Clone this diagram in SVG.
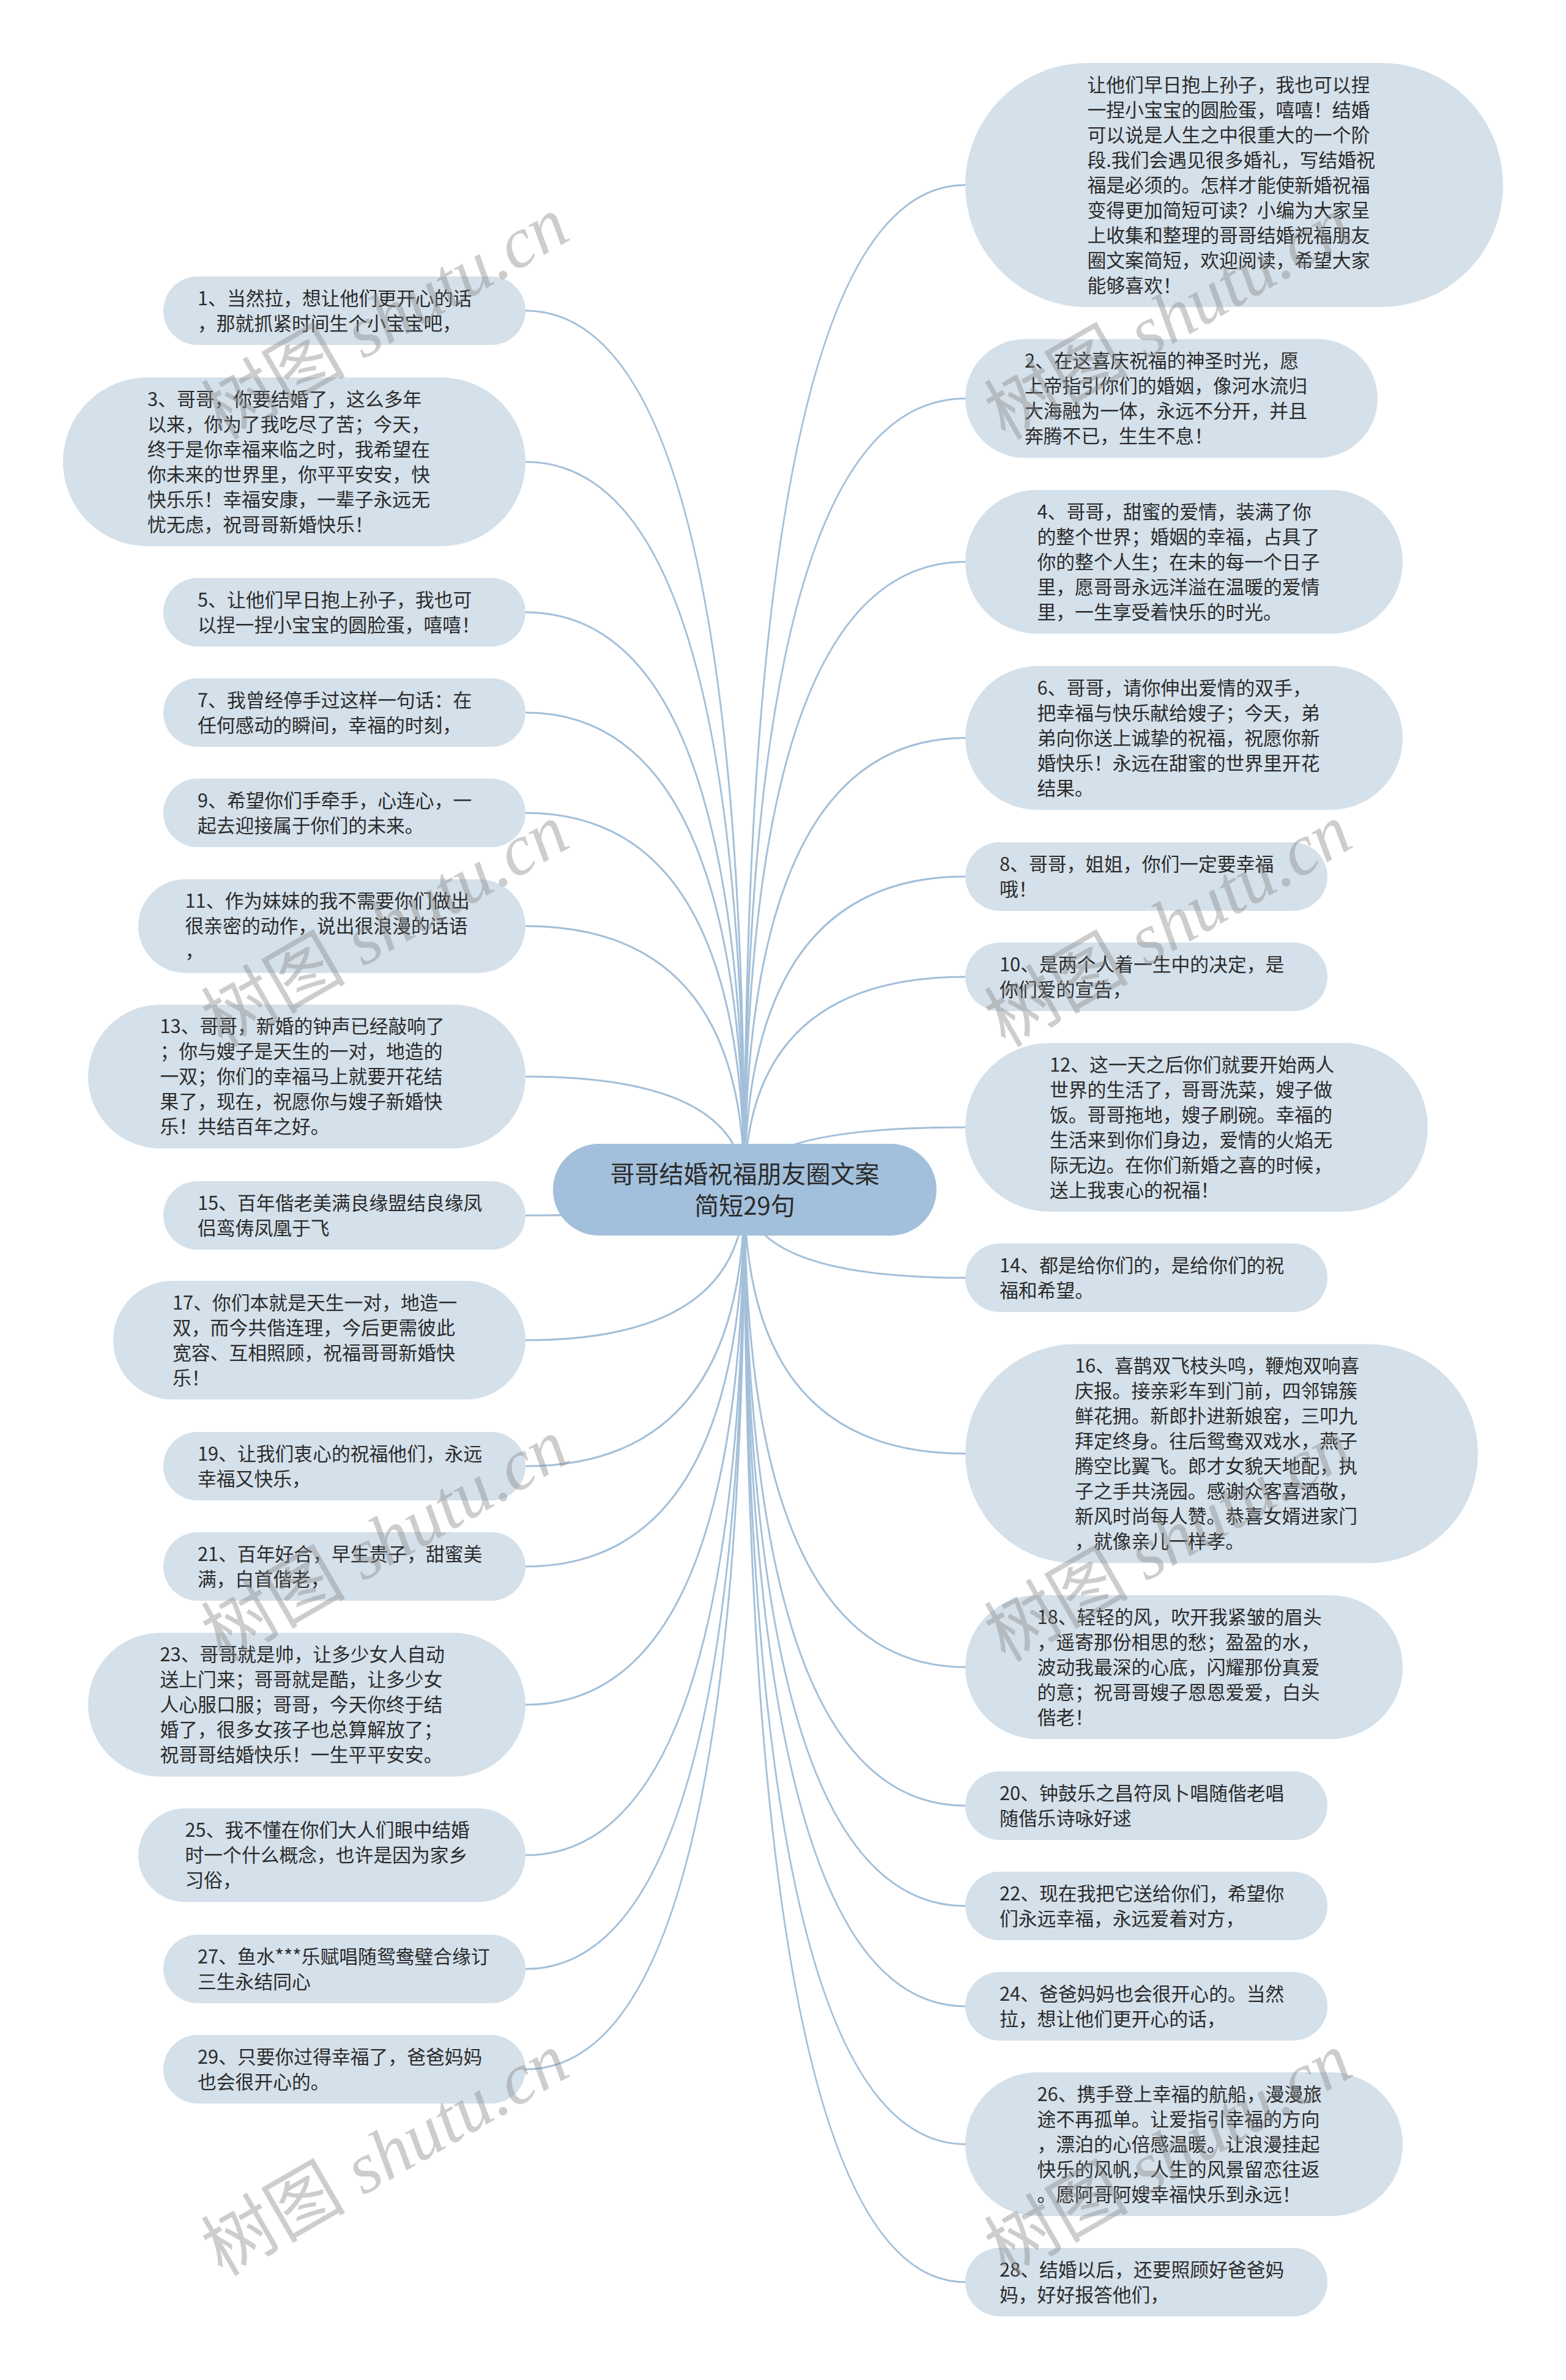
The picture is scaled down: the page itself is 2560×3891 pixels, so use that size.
<svg xmlns="http://www.w3.org/2000/svg" width="2560" height="3891" viewBox="0 0 2560 3891">
<style>
.n{fill:#d4e0ea}
.t{font-family:"Noto Sans CJK SC","Noto Sans",sans-serif;font-size:30.8px;fill:#2b2b2b}
.c{fill:#a2bfdb}
.ct{font-family:"Noto Sans CJK SC","Noto Sans",sans-serif;font-size:40px;fill:#2b2b2b;text-anchor:middle}
.e{fill:none;stroke:#a3bfd9;stroke-width:3}
.wm{font-family:"Liberation Serif","Noto Sans CJK SC",serif;font-size:118px;fill:#888;fill-opacity:0.42;text-anchor:middle}
</style>
<rect width="2560" height="3891" fill="#ffffff"/>
<g id="connectors">
<path class="e" d="M1217 1945 Q1217 508 859 508"/>
<path class="e" d="M1217 1945 Q1217 755 859 755"/>
<path class="e" d="M1217 1945 Q1217 1001 859 1001"/>
<path class="e" d="M1217 1945 Q1217 1165 859 1165"/>
<path class="e" d="M1217 1945 Q1217 1329 859 1329"/>
<path class="e" d="M1217 1945 Q1217 1514 859 1514"/>
<path class="e" d="M1217 1945 Q1217 1760 859 1760"/>
<path class="e" d="M1217 1945 Q1217 1987 859 1987"/>
<path class="e" d="M1217 1945 Q1217 2191 859 2191"/>
<path class="e" d="M1217 1945 Q1217 2397 859 2397"/>
<path class="e" d="M1217 1945 Q1217 2561 859 2561"/>
<path class="e" d="M1217 1945 Q1217 2787 859 2787"/>
<path class="e" d="M1217 1945 Q1217 3033 859 3033"/>
<path class="e" d="M1217 1945 Q1217 3219 859 3219"/>
<path class="e" d="M1217 1945 Q1217 3383 859 3383"/>
<path class="e" d="M1217 1945 Q1217 302.5 1578 302.5"/>
<path class="e" d="M1217 1945 Q1217 651.5 1578 651.5"/>
<path class="e" d="M1217 1945 Q1217 918.5 1578 918.5"/>
<path class="e" d="M1217 1945 Q1217 1206.5 1578 1206.5"/>
<path class="e" d="M1217 1945 Q1217 1433 1578 1433"/>
<path class="e" d="M1217 1945 Q1217 1597 1578 1597"/>
<path class="e" d="M1217 1945 Q1217 1843 1578 1843"/>
<path class="e" d="M1217 1945 Q1217 2089 1578 2089"/>
<path class="e" d="M1217 1945 Q1217 2376.5 1578 2376.5"/>
<path class="e" d="M1217 1945 Q1217 2725.5 1578 2725.5"/>
<path class="e" d="M1217 1945 Q1217 2952 1578 2952"/>
<path class="e" d="M1217 1945 Q1217 3116 1578 3116"/>
<path class="e" d="M1217 1945 Q1217 3280 1578 3280"/>
<path class="e" d="M1217 1945 Q1217 3505.5 1578 3505.5"/>
<path class="e" d="M1217 1945 Q1217 3731 1578 3731"/>
</g>
<g id="center">
<rect class="c" x="904" y="1870" width="627" height="150" rx="75"/>
<text class="ct" x="1217.5" y="1934">哥哥结婚祝福朋友圈文案</text>
<text class="ct" x="1217.5" y="1986">简短29句</text>
</g>
<g id="n1"><rect class="n" x="267" y="452" width="592" height="112" rx="56"/>
<text class="t" x="323" y="498.5">1、当然拉，想让他们更开心的话</text>
<text class="t" x="323" y="539.5">，那就抓紧时间生个小宝宝吧，</text></g>
<g id="n3"><rect class="n" x="103" y="617" width="756" height="276" rx="138"/>
<text class="t" x="241" y="663.5">3、哥哥，你要结婚了，这么多年</text>
<text class="t" x="241" y="704.5">以来，你为了我吃尽了苦；今天，</text>
<text class="t" x="241" y="745.5">终于是你幸福来临之时，我希望在</text>
<text class="t" x="241" y="786.5">你未来的世界里，你平平安安，快</text>
<text class="t" x="241" y="827.5">快乐乐！幸福安康，一辈子永远无</text>
<text class="t" x="241" y="868.5">忧无虑，祝哥哥新婚快乐！</text></g>
<g id="n5"><rect class="n" x="267" y="945" width="592" height="112" rx="56"/>
<text class="t" x="323" y="991.5">5、让他们早日抱上孙子，我也可</text>
<text class="t" x="323" y="1032.5">以捏一捏小宝宝的圆脸蛋，嘻嘻！</text></g>
<g id="n7"><rect class="n" x="267" y="1109" width="592" height="112" rx="56"/>
<text class="t" x="323" y="1155.5">7、我曾经停手过这样一句话：在</text>
<text class="t" x="323" y="1196.5">任何感动的瞬间，幸福的时刻，</text></g>
<g id="n9"><rect class="n" x="267" y="1273" width="592" height="112" rx="56"/>
<text class="t" x="323" y="1319.5">9、希望你们手牵手，心连心，一</text>
<text class="t" x="323" y="1360.5">起去迎接属于你们的未来。</text></g>
<g id="n11"><rect class="n" x="226" y="1437.5" width="633" height="153" rx="76.5"/>
<text class="t" x="302.5" y="1484">11、作为妹妹的我不需要你们做出</text>
<text class="t" x="302.5" y="1525">很亲密的动作，说出很浪漫的话语</text>
<text class="t" x="302.5" y="1566">，</text></g>
<g id="n13"><rect class="n" x="144" y="1642.5" width="715" height="235" rx="117.5"/>
<text class="t" x="261.5" y="1689">13、哥哥，新婚的钟声已经敲响了</text>
<text class="t" x="261.5" y="1730">；你与嫂子是天生的一对，地造的</text>
<text class="t" x="261.5" y="1771">一双；你们的幸福马上就要开花结</text>
<text class="t" x="261.5" y="1812">果了，现在，祝愿你与嫂子新婚快</text>
<text class="t" x="261.5" y="1853">乐！共结百年之好。</text></g>
<g id="n15"><rect class="n" x="267" y="1931" width="592" height="112" rx="56"/>
<text class="t" x="323" y="1977.5">15、百年偕老美满良缘盟结良缘凤</text>
<text class="t" x="323" y="2018.5">侣鸾俦凤凰于飞</text></g>
<g id="n17"><rect class="n" x="185" y="2094" width="674" height="194" rx="97"/>
<text class="t" x="282" y="2140.5">17、你们本就是天生一对，地造一</text>
<text class="t" x="282" y="2181.5">双，而今共偕连理，今后更需彼此</text>
<text class="t" x="282" y="2222.5">宽容、互相照顾，祝福哥哥新婚快</text>
<text class="t" x="282" y="2263.5">乐！</text></g>
<g id="n19"><rect class="n" x="267" y="2341" width="592" height="112" rx="56"/>
<text class="t" x="323" y="2387.5">19、让我们衷心的祝福他们，永远</text>
<text class="t" x="323" y="2428.5">幸福又快乐，</text></g>
<g id="n21"><rect class="n" x="267" y="2505" width="592" height="112" rx="56"/>
<text class="t" x="323" y="2551.5">21、百年好合，早生贵子，甜蜜美</text>
<text class="t" x="323" y="2592.5">满，白首偕老，</text></g>
<g id="n23"><rect class="n" x="144" y="2669.5" width="715" height="235" rx="117.5"/>
<text class="t" x="261.5" y="2716">23、哥哥就是帅，让多少女人自动</text>
<text class="t" x="261.5" y="2757">送上门来；哥哥就是酷，让多少女</text>
<text class="t" x="261.5" y="2798">人心服口服；哥哥，今天你终于结</text>
<text class="t" x="261.5" y="2839">婚了，很多女孩子也总算解放了；</text>
<text class="t" x="261.5" y="2880">祝哥哥结婚快乐！一生平平安安。</text></g>
<g id="n25"><rect class="n" x="226" y="2956.5" width="633" height="153" rx="76.5"/>
<text class="t" x="302.5" y="3003">25、我不懂在你们大人们眼中结婚</text>
<text class="t" x="302.5" y="3044">时一个什么概念，也许是因为家乡</text>
<text class="t" x="302.5" y="3085">习俗，</text></g>
<g id="n27"><rect class="n" x="267" y="3163" width="592" height="112" rx="56"/>
<text class="t" x="323" y="3209.5">27、鱼水***乐赋唱随鸳鸯璧合缘订</text>
<text class="t" x="323" y="3250.5">三生永结同心</text></g>
<g id="n29"><rect class="n" x="267" y="3327" width="592" height="112" rx="56"/>
<text class="t" x="323" y="3373.5">29、只要你过得幸福了，爸爸妈妈</text>
<text class="t" x="323" y="3414.5">也会很开心的。</text></g>
<g id="intro"><rect class="n" x="1578" y="103" width="879" height="399" rx="199.5"/>
<text class="t" x="1777.5" y="149.5">让他们早日抱上孙子，我也可以捏</text>
<text class="t" x="1777.5" y="190.5">一捏小宝宝的圆脸蛋，嘻嘻！结婚</text>
<text class="t" x="1777.5" y="231.5">可以说是人生之中很重大的一个阶</text>
<text class="t" x="1777.5" y="272.5">段.我们会遇见很多婚礼，写结婚祝</text>
<text class="t" x="1777.5" y="313.5">福是必须的。怎样才能使新婚祝福</text>
<text class="t" x="1777.5" y="354.5">变得更加简短可读？小编为大家呈</text>
<text class="t" x="1777.5" y="395.5">上收集和整理的哥哥结婚祝福朋友</text>
<text class="t" x="1777.5" y="436.5">圈文案简短，欢迎阅读，希望大家</text>
<text class="t" x="1777.5" y="477.5">能够喜欢！</text></g>
<g id="n2"><rect class="n" x="1578" y="554.5" width="674" height="194" rx="97"/>
<text class="t" x="1675" y="601">2、在这喜庆祝福的神圣时光，愿</text>
<text class="t" x="1675" y="642">上帝指引你们的婚姻，像河水流归</text>
<text class="t" x="1675" y="683">大海融为一体，永远不分开，并且</text>
<text class="t" x="1675" y="724">奔腾不已，生生不息！</text></g>
<g id="n4"><rect class="n" x="1578" y="801" width="715" height="235" rx="117.5"/>
<text class="t" x="1695.5" y="847.5">4、哥哥，甜蜜的爱情，装满了你</text>
<text class="t" x="1695.5" y="888.5">的整个世界；婚姻的幸福，占具了</text>
<text class="t" x="1695.5" y="929.5">你的整个人生；在未的每一个日子</text>
<text class="t" x="1695.5" y="970.5">里，愿哥哥永远洋溢在温暖的爱情</text>
<text class="t" x="1695.5" y="1011.5">里，一生享受着快乐的时光。</text></g>
<g id="n6"><rect class="n" x="1578" y="1089" width="715" height="235" rx="117.5"/>
<text class="t" x="1695.5" y="1135.5">6、哥哥，请你伸出爱情的双手，</text>
<text class="t" x="1695.5" y="1176.5">把幸福与快乐献给嫂子；今天，弟</text>
<text class="t" x="1695.5" y="1217.5">弟向你送上诚挚的祝福，祝愿你新</text>
<text class="t" x="1695.5" y="1258.5">婚快乐！永远在甜蜜的世界里开花</text>
<text class="t" x="1695.5" y="1299.5">结果。</text></g>
<g id="n8"><rect class="n" x="1578" y="1377" width="592" height="112" rx="56"/>
<text class="t" x="1634" y="1423.5">8、哥哥，姐姐，你们一定要幸福</text>
<text class="t" x="1634" y="1464.5">哦！</text></g>
<g id="n10"><rect class="n" x="1578" y="1541" width="592" height="112" rx="56"/>
<text class="t" x="1634" y="1587.5">10、是两个人着一生中的决定，是</text>
<text class="t" x="1634" y="1628.5">你们爱的宣告，</text></g>
<g id="n12"><rect class="n" x="1578" y="1705" width="756" height="276" rx="138"/>
<text class="t" x="1716" y="1751.5">12、这一天之后你们就要开始两人</text>
<text class="t" x="1716" y="1792.5">世界的生活了，哥哥洗菜，嫂子做</text>
<text class="t" x="1716" y="1833.5">饭。哥哥拖地，嫂子刷碗。幸福的</text>
<text class="t" x="1716" y="1874.5">生活来到你们身边，爱情的火焰无</text>
<text class="t" x="1716" y="1915.5">际无边。在你们新婚之喜的时候，</text>
<text class="t" x="1716" y="1956.5">送上我衷心的祝福！</text></g>
<g id="n14"><rect class="n" x="1578" y="2033" width="592" height="112" rx="56"/>
<text class="t" x="1634" y="2079.5">14、都是给你们的，是给你们的祝</text>
<text class="t" x="1634" y="2120.5">福和希望。</text></g>
<g id="n16"><rect class="n" x="1578" y="2197.5" width="838" height="358" rx="179"/>
<text class="t" x="1757" y="2244">16、喜鹊双飞枝头鸣，鞭炮双响喜</text>
<text class="t" x="1757" y="2285">庆报。接亲彩车到门前，四邻锦簇</text>
<text class="t" x="1757" y="2326">鲜花拥。新郎扑进新娘窑，三叩九</text>
<text class="t" x="1757" y="2367">拜定终身。往后鸳鸯双戏水，燕子</text>
<text class="t" x="1757" y="2408">腾空比翼飞。郎才女貌天地配，执</text>
<text class="t" x="1757" y="2449">子之手共浇园。感谢众客喜酒敬，</text>
<text class="t" x="1757" y="2490">新风时尚每人赞。恭喜女婿进家门</text>
<text class="t" x="1757" y="2531">，就像亲儿一样孝。</text></g>
<g id="n18"><rect class="n" x="1578" y="2608" width="715" height="235" rx="117.5"/>
<text class="t" x="1695.5" y="2654.5">18、轻轻的风，吹开我紧皱的眉头</text>
<text class="t" x="1695.5" y="2695.5">，遥寄那份相思的愁；盈盈的水，</text>
<text class="t" x="1695.5" y="2736.5">波动我最深的心底，闪耀那份真爱</text>
<text class="t" x="1695.5" y="2777.5">的意；祝哥哥嫂子恩恩爱爱，白头</text>
<text class="t" x="1695.5" y="2818.5">偕老！</text></g>
<g id="n20"><rect class="n" x="1578" y="2896" width="592" height="112" rx="56"/>
<text class="t" x="1634" y="2942.5">20、钟鼓乐之昌符凤卜唱随偕老唱</text>
<text class="t" x="1634" y="2983.5">随偕乐诗咏好逑</text></g>
<g id="n22"><rect class="n" x="1578" y="3060" width="592" height="112" rx="56"/>
<text class="t" x="1634" y="3106.5">22、现在我把它送给你们，希望你</text>
<text class="t" x="1634" y="3147.5">们永远幸福，永远爱着对方，</text></g>
<g id="n24"><rect class="n" x="1578" y="3224" width="592" height="112" rx="56"/>
<text class="t" x="1634" y="3270.5">24、爸爸妈妈也会很开心的。当然</text>
<text class="t" x="1634" y="3311.5">拉，想让他们更开心的话，</text></g>
<g id="n26"><rect class="n" x="1578" y="3388" width="715" height="235" rx="117.5"/>
<text class="t" x="1695.5" y="3434.5">26、携手登上幸福的航船，漫漫旅</text>
<text class="t" x="1695.5" y="3475.5">途不再孤单。让爱指引幸福的方向</text>
<text class="t" x="1695.5" y="3516.5">，漂泊的心倍感温暖。让浪漫挂起</text>
<text class="t" x="1695.5" y="3557.5">快乐的风帆，人生的风景留恋往返</text>
<text class="t" x="1695.5" y="3598.5">。愿阿哥阿嫂幸福快乐到永远！</text></g>
<g id="n28"><rect class="n" x="1578" y="3675" width="592" height="112" rx="56"/>
<text class="t" x="1634" y="3721.5">28、结婚以后，还要照顾好爸爸妈</text>
<text class="t" x="1634" y="3762.5">妈，好好报答他们，</text></g>
<g id="watermarks">
<text class="wm" transform="translate(650 555) rotate(-30)">树图 <tspan font-style="italic">shutu.cn</tspan></text>
<text class="wm" transform="translate(1930 555) rotate(-30)">树图 <tspan font-style="italic">shutu.cn</tspan></text>
<text class="wm" transform="translate(650 1548) rotate(-30)">树图 <tspan font-style="italic">shutu.cn</tspan></text>
<text class="wm" transform="translate(1930 1548) rotate(-30)">树图 <tspan font-style="italic">shutu.cn</tspan></text>
<text class="wm" transform="translate(650 2553) rotate(-30)">树图 <tspan font-style="italic">shutu.cn</tspan></text>
<text class="wm" transform="translate(1930 2553) rotate(-30)">树图 <tspan font-style="italic">shutu.cn</tspan></text>
<text class="wm" transform="translate(650 3557) rotate(-30)">树图 <tspan font-style="italic">shutu.cn</tspan></text>
<text class="wm" transform="translate(1930 3557) rotate(-30)">树图 <tspan font-style="italic">shutu.cn</tspan></text>
</g>
</svg>
